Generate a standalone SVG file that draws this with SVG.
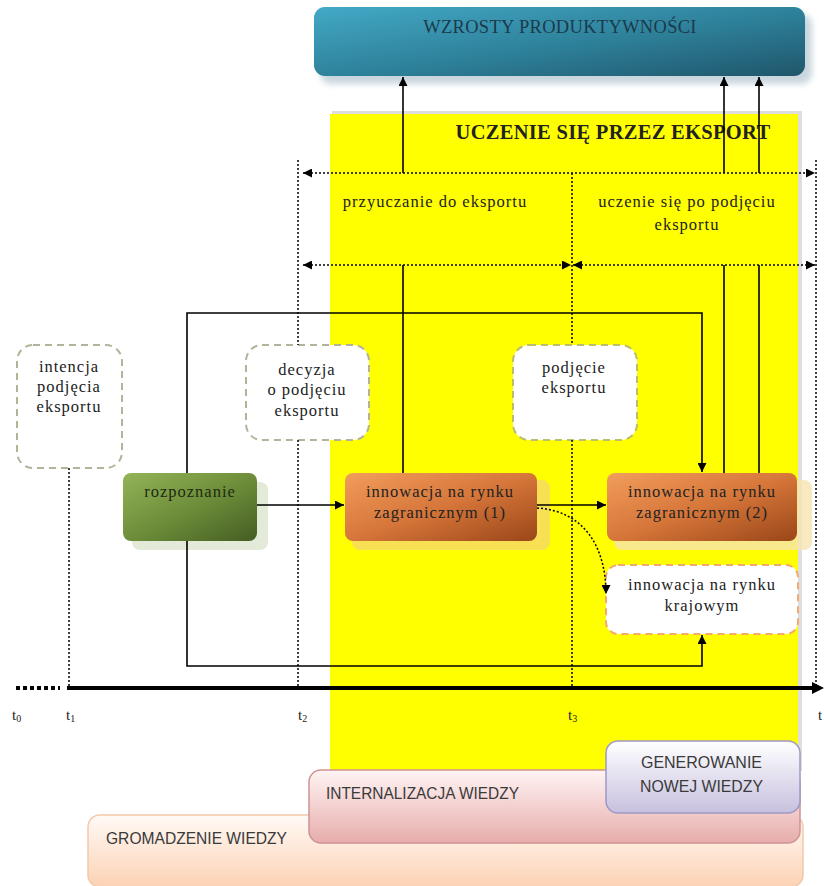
<svg xmlns="http://www.w3.org/2000/svg" width="824" height="886" viewBox="0 0 824 886">
  <defs>
    <linearGradient id="gTeal" x1="0" y1="0" x2="1" y2="1">
      <stop offset="0" stop-color="#43a9c6"/>
      <stop offset="0.55" stop-color="#2d7f98"/>
      <stop offset="1" stop-color="#1f566b"/>
    </linearGradient>
    <linearGradient id="gGreen" x1="0" y1="0" x2="1" y2="1">
      <stop offset="0" stop-color="#93b457"/>
      <stop offset="0.55" stop-color="#6b8a38"/>
      <stop offset="1" stop-color="#435d22"/>
    </linearGradient>
    <linearGradient id="gOrange" x1="0" y1="0" x2="1" y2="1">
      <stop offset="0" stop-color="#f29d5c"/>
      <stop offset="0.5" stop-color="#d6763a"/>
      <stop offset="1" stop-color="#9a4618"/>
    </linearGradient>
    <linearGradient id="gPeach" x1="0" y1="0" x2="0" y2="1">
      <stop offset="0" stop-color="#fffaf6"/>
      <stop offset="1" stop-color="#fcd2b4"/>
    </linearGradient>
    <linearGradient id="gPink" x1="0" y1="0" x2="0" y2="1">
      <stop offset="0" stop-color="#fff4f4"/>
      <stop offset="1" stop-color="#e6adab"/>
    </linearGradient>
    <linearGradient id="gLav" x1="0" y1="0" x2="0" y2="1">
      <stop offset="0" stop-color="#ffffff"/>
      <stop offset="1" stop-color="#c7c0df"/>
    </linearGradient>
    <filter id="soft" x="-10%" y="-10%" width="120%" height="130%">
      <feGaussianBlur stdDeviation="3"/>
    </filter>
    <marker id="ah" viewBox="0 0 10 10" refX="10" refY="5" markerWidth="10" markerHeight="9" markerUnits="userSpaceOnUse" orient="auto-start-reverse">
      <path d="M0,0 L10,5 L0,10 z" fill="#000"/>
    </marker>
  </defs>
  <style>
    .serif { font-family: "Liberation Serif", "Times New Roman", serif; fill: #222; }
    .lbl { font-size: 16.5px; letter-spacing: 1px; text-anchor: middle; }
    .sans { font-family: "Liberation Sans", Arial, sans-serif; fill: #3a3a3a; font-size: 17px; }
    .solid { stroke: #000; stroke-width: 1.6; fill: none; }
    .dot { stroke: #000; stroke-width: 1.5; stroke-dasharray: 2 2; fill: none; }
    .dashbox { fill: #fff; stroke-width: 2; stroke-dasharray: 7 5; }
    .tl { font-family: "Liberation Serif", "Times New Roman", serif; font-size: 15px; fill: #222; }
    .sub { font-size: 10px; }
  </style>

  <rect width="824" height="886" fill="#fff"/>

  <!-- learning-by-exporting zone -->
  <g id="zone">
    <rect x="332" y="111" width="470" height="660" fill="#dedede"/>
    <rect x="330" y="114" width="468" height="660" fill="#ffff00"/>
    <text class="serif" x="613" y="139" font-size="20.5" font-weight="bold" letter-spacing="0.3" text-anchor="middle">UCZENIE SIĘ PRZEZ EKSPORT</text>
    <text class="serif lbl" x="435" y="207">przyuczanie do eksportu</text>
    <text class="serif lbl" x="687" y="207">uczenie się po podjęciu</text>
    <text class="serif lbl" x="687" y="230">eksportu</text>
  </g>

  <!-- productivity growth -->
  <g id="wzrosty">
    <rect x="320" y="14" width="492" height="70" rx="11" fill="#c9d6de" filter="url(#soft)"/>
    <rect x="314" y="7" width="491" height="69" rx="11" fill="url(#gTeal)"/>
    <text class="serif" x="560" y="33" font-size="18.5" letter-spacing="0.3" text-anchor="middle" style="fill:#1c3a4c">WZROSTY PRODUKTYWNOŚCI</text>
  </g>

  <!-- timeline -->
  <g id="timeline">
    <line x1="16" y1="688" x2="60" y2="688" stroke="#000" stroke-width="4" stroke-dasharray="4 3"/>
    <line x1="67" y1="688" x2="814" y2="688" stroke="#000" stroke-width="4"/>
    <path d="M812,682 L824,688 L812,694 z" fill="#000"/>
    <text class="tl" x="12" y="720">t<tspan class="sub" dy="2">0</tspan></text>
    <text class="tl" x="66" y="720">t<tspan class="sub" dy="2">1</tspan></text>
    <text class="tl" x="298" y="720">t<tspan class="sub" dy="2">2</tspan></text>
    <text class="tl" x="568" y="720">t<tspan class="sub" dy="2">3</tspan></text>
    <text class="tl" x="818" y="720">t</text>
  </g>

  <!-- milestones -->
  <g id="intencja">
    <rect class="dashbox" x="17" y="345" width="105" height="123" rx="16" stroke="#b3b39a"/>
    <text class="serif lbl" x="69" y="372">intencja</text>
    <text class="serif lbl" x="69" y="392">podjęcia</text>
    <text class="serif lbl" x="69" y="412">eksportu</text>
  </g>
  <g id="decyzja">
    <rect class="dashbox" x="246" y="345" width="123" height="95" rx="16" stroke="#b3b39a"/>
    <text class="serif lbl" x="307" y="375">decyzja</text>
    <text class="serif lbl" x="307" y="395">o podjęciu</text>
    <text class="serif lbl" x="307" y="416">eksportu</text>
  </g>
  <g id="podjecie">
    <rect class="dashbox" x="513" y="345" width="124" height="95" rx="16" stroke="#b9bf6a"/>
    <text class="serif lbl" x="574" y="373">podjęcie</text>
    <text class="serif lbl" x="574" y="393">eksportu</text>
  </g>

  <!-- process nodes -->
  <g id="rozpoznanie">
    <rect x="132" y="482" width="136" height="68" rx="8" fill="#e4ead8"/>
    <rect x="123" y="473" width="134" height="68" rx="8" fill="url(#gGreen)"/>
    <text class="serif lbl" x="190" y="497" style="fill:#1d2a10">rozpoznanie</text>
  </g>
  <g id="innowacja1">
    <rect x="352" y="480" width="198" height="70" rx="8" fill="#f6d86a" opacity="0.8"/>
    <rect x="345" y="473" width="192" height="68" rx="8" fill="url(#gOrange)"/>
    <text class="serif lbl" x="440" y="497">innowacja na rynku</text>
    <text class="serif lbl" x="440" y="518">zagranicznym (1)</text>
  </g>
  <g id="innowacja2">
    <rect x="614" y="480" width="198" height="70" rx="8" fill="#f8e4b0" opacity="0.8"/>
    <rect x="607" y="473" width="190" height="68" rx="8" fill="url(#gOrange)"/>
    <text class="serif lbl" x="702" y="497">innowacja na rynku</text>
    <text class="serif lbl" x="702" y="518">zagranicznym (2)</text>
  </g>
  <g id="krajowy">
    <rect class="dashbox" x="606" y="565" width="192" height="69" rx="12" stroke="#f2aa70"/>
    <text class="serif lbl" x="702" y="590">innowacja na rynku</text>
    <text class="serif lbl" x="702" y="611">krajowym</text>
  </g>

  <!-- knowledge layers -->
  <g id="gromadzenie">
    <rect x="88" y="815" width="715" height="72" rx="12" fill="url(#gPeach)" stroke="#f3c8aa" stroke-width="1.5"/>
    <text class="sans" x="106" y="844" textLength="181" lengthAdjust="spacingAndGlyphs">GROMADZENIE WIEDZY</text>
  </g>
  <g id="internalizacja">
    <rect x="309" y="770" width="491" height="73" rx="12" fill="url(#gPink)" stroke="#cf9393" stroke-width="1.5"/>
    <text class="sans" x="326" y="799" textLength="193" lengthAdjust="spacingAndGlyphs">INTERNALIZACJA WIEDZY</text>
  </g>
  <g id="generowanie">
    <rect x="606" y="741" width="194" height="72" rx="12" fill="url(#gLav)" stroke="#9f98c6" stroke-width="1.5"/>
    <text class="sans" x="641" y="768" textLength="121" lengthAdjust="spacingAndGlyphs">GENEROWANIE</text>
    <text class="sans" x="640" y="792" textLength="123" lengthAdjust="spacingAndGlyphs">NOWEJ WIEDZY</text>
  </g>

  <!-- connectors -->
  <g id="connectors">
    <!-- time markers -->
    <line class="dot" x1="69" y1="468" x2="69" y2="688"/>
    <line class="dot" x1="298" y1="160" x2="298" y2="345"/>
    <line class="dot" x1="298" y1="440" x2="298" y2="688"/>
    <line class="dot" x1="572" y1="173" x2="572" y2="345"/>
    <line class="dot" x1="572" y1="440" x2="572" y2="688"/>
    <line class="dot" x1="816" y1="160" x2="816" y2="688"/>
    <!-- phase spans -->
    <line class="dot" x1="303" y1="173" x2="815" y2="173" marker-start="url(#ah)" marker-end="url(#ah)"/>
    <line class="dot" x1="303" y1="265" x2="571" y2="265" marker-start="url(#ah)" marker-end="url(#ah)"/>
    <line class="dot" x1="573" y1="265" x2="815" y2="265" marker-start="url(#ah)" marker-end="url(#ah)"/>
    <!-- links to productivity growth -->
    <line class="solid" x1="403" y1="173" x2="403" y2="77" marker-end="url(#ah)"/>
    <line class="solid" x1="403" y1="265" x2="403" y2="473"/>
    <line class="solid" x1="724" y1="173" x2="724" y2="77" marker-end="url(#ah)"/>
    <line class="solid" x1="724" y1="265" x2="724" y2="473"/>
    <line class="solid" x1="759" y1="173" x2="759" y2="77" marker-end="url(#ah)"/>
    <line class="solid" x1="759" y1="265" x2="759" y2="473"/>
    <!-- recognition paths -->
    <path class="solid" d="M187,473 V313 H702 V472" marker-end="url(#ah)"/>
    <path class="solid" d="M187,541 V666 H702 V635" marker-end="url(#ah)"/>
    <line class="solid" x1="257" y1="505" x2="344" y2="505" marker-end="url(#ah)"/>
    <line class="solid" x1="537" y1="505" x2="606" y2="505" marker-end="url(#ah)"/>
    <path class="dot" d="M537,508 C585,511 606,548 606,594" marker-end="url(#ah)"/>
  </g>
</svg>
